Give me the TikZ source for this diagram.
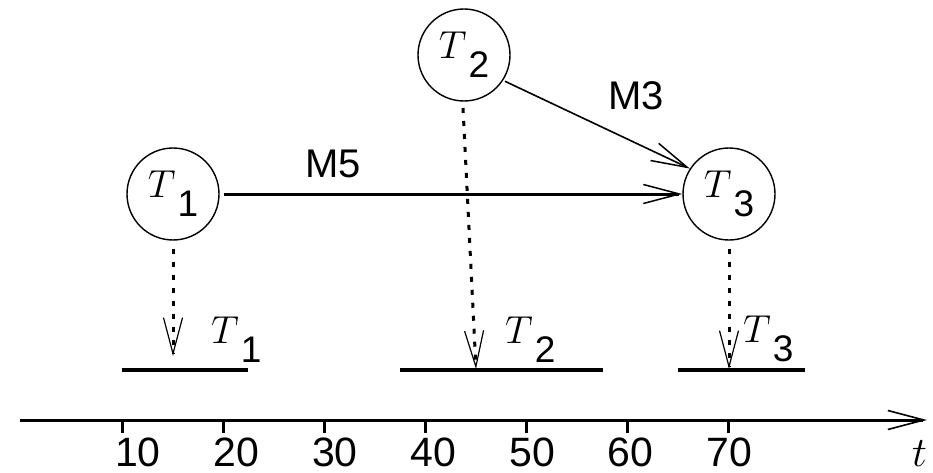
\RequirePackage{fix-cm}
\documentclass[tikz,border=0pt]{standalone}
\usepackage{fontspec}
\setsansfont{Liberation Sans}
\usetikzlibrary{arrows.meta}
\newcommand{\tsub}[1]{{\fontsize{39}{39}\selectfont$T$}\kern2pt\raisebox{-19pt}{\fontsize{37}{37}\selectfont\sffamily #1}}
\begin{document}
\begin{tikzpicture}[x=1pt,y=-1pt,
  task/.style={circle,draw,line width=1.4pt,minimum size=92pt,inner sep=0pt},
  lab/.style={inner sep=0pt,font=\fontsize{40}{40}\selectfont\sffamily},
  num/.style={inner sep=0pt,anchor=base,font=\fontsize{41}{41}\selectfont\sffamily},
  barline/.style={line width=4.5pt},
  msg/.style={-{Straight Barb[length=36pt,width=19pt,line width=1.5pt]}},
  dots/.style={line width=3pt,dash pattern=on 5pt off 8pt,
    -{Straight Barb[length=36pt,width=19pt,line width=1.2pt]}},
  tick/.style={line width=3pt}]
\useasboundingbox (0,0) rectangle (933,473);
% task nodes
\node[task] (t1) at (173,194) {\tsub{1}};
\node[task] (t2) at (464,55) {\tsub{2}};
\node[task] (t3) at (729,194) {\tsub{3}};
% messages
\draw[msg,line width=3pt,shorten <=4pt] (t1) -- (t3);
\node[lab,anchor=base] (m5) at (333,178) {M5};
\draw[msg,line width=1.6pt,shorten <=2pt] (t2.-33) -- (t3.147);
\node[lab,anchor=base] (m3) at (636,110) {M3};
% schedule bars
\coordinate (b1l) at (122,370); \coordinate (b1r) at (248,370);
\coordinate (b2l) at (400,370); \coordinate (b2r) at (603,370);
\coordinate (b3l) at (678,370); \coordinate (b3r) at (805,370);
\draw[barline] (b1l) -- (b1r);
\draw[barline] (b2l) -- (b2r);
\draw[barline] (b3l) -- (b3r);
\coordinate (e1) at (173,356);
\coordinate (s2) at (463,108); \coordinate (e2) at (476,369);
\coordinate (e3) at (729,369);
\draw[dots,shorten <=8pt] (t1.south) -- (e1);
\draw[dots] (s2) -- (e2);
\draw[dots,shorten <=8pt] (t3.south) -- (e3);
\node[inner sep=0pt,anchor=base west] (l1) at (211,343) {\tsub{1}};
\node[inner sep=0pt,anchor=base west] (l2) at (505,343) {\tsub{2}};
\node[inner sep=0pt,anchor=base west] (l3) at (743,342) {\tsub{3}};
% time axis
\coordinate (a0) at (20,420); \coordinate (a1) at (927,420);
\draw[line width=3pt,-{Straight Barb[length=36pt,width=19pt,line width=1.6pt]}] (a0) -- (a1);
\foreach \v [count=\i from 0] in {10,20,30,40,50,60,70} {
  \coordinate (k\v) at ({122.7+101*\i},420);
  \draw[tick] (k\v) -- ++(0,13);
  \node[num] (n\v) at ({138+98.5*\i},466) {\v};
}
\node[inner sep=0pt,anchor=base west,font=\fontsize{42}{42}\selectfont] (tl) at (912,466) {$t$};
\end{tikzpicture}
\end{document}
